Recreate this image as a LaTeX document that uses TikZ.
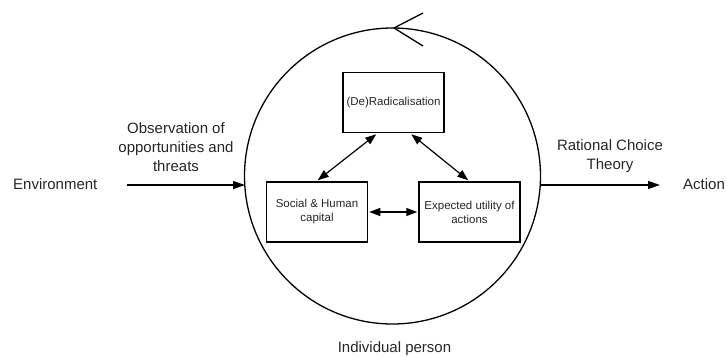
\documentclass[tikz,border=0pt]{standalone}
\usepackage{fontspec}
\setmainfont{Liberation Sans}
\usetikzlibrary{arrows.meta,calc}
\begin{document}
\begin{tikzpicture}[x=1pt,y=-1pt,
  txt/.style={text=black!85,inner sep=0pt,font=\fontsize{15}{19}\selectfont,align=center},
  btxt/.style={text=black!85,font=\fontsize{11.5}{14}\selectfont,align=center},
  box/.style={draw,line width=1.5pt,inner sep=0pt,minimum width=101pt,minimum height=60pt},
  conn/.style={line width=1.2pt,{Triangle[length=11pt,width=8pt]}-{Triangle[length=11pt,width=8pt]}},
  flow/.style={line width=1.2pt,-{Triangle[length=12pt,width=8pt]}}]
\useasboundingbox (0,0) rectangle (727,356);
% circle
\node[draw,circle,line width=1.3pt,minimum size=296pt,inner sep=0pt] (circ) at (392.5,176) {};
\coordinate (tip) at (394,28);
\coordinate (armA) at (423,13);
\coordinate (armB) at (423,46);
\draw[line width=1.3pt] (armA) -- (tip) -- (armB);
% boxes
\node[box] (rad) at (393.5,102.5) {};
\node[btxt] at (rad) {(De)Radicalisation};
\node[box] (soc) at (317,212) {};
\node[btxt] at (soc) {Social \& Human\\capital};
\node[box] (exp) at (469.5,212) {};
\node[btxt] at (exp) {Expected utility of\\actions};
% inner connectors
\draw[conn] ($(rad.south west)+(34,1)$) -- ($(soc.north west)+(52,-1)$);
\draw[conn] ($(rad.south west)+(69,1)$) -- ($(exp.north west)+(50,-1)$);
\draw[conn] ($(soc.east)+(1,0)$) -- ($(exp.west)+(-1,0)$);
% outer labels
\node[txt,anchor=west] (env) at (13,184) {Environment};
\node[txt] (obs) at (176,147) {Observation of\\opportunities and\\threats};
\node[txt,anchor=west] (act) at (683,184) {Action};
\node[txt] (rct) at (610,156) {Rational Choice\\Theory};
\node[txt] (ind) at (394.5,349) {Individual person};
\coordinate (envS) at (127,185);
\coordinate (envE) at (245,185);
\coordinate (actS) at (540,185);
\coordinate (actE) at (660,185);
\draw[flow] (envS) -- (envE);
\draw[flow] (actS) -- (actE);
\end{tikzpicture}
\end{document}
